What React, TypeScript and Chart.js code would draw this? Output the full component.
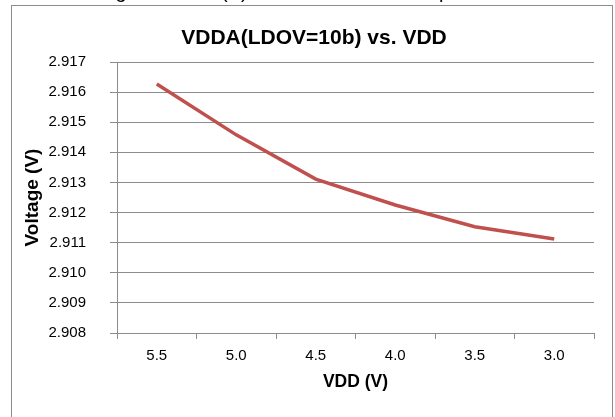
import React, { useEffect, useRef } from "react";
import { Chart, registerables } from "chart.js";

Chart.register(...registerables);

const categories = ["5.5", "5.0", "4.5", "4.0", "3.5", "3.0"];
const vddaValues = [2.91627, 2.91458, 2.91311, 2.91225, 2.91153, 2.91112];
const yMin = 2.908;
const yMax = 2.917;
const yStep = 0.001;
const chartTitle = "VDDA(LDOV=10b) vs. VDD";
const xTitle = "VDD (V)";
const yTitle = "Voltage (V)";
const captionAbove = "Voltage of VDDA(V) vs. VDD at room temperature";

const FONT = "'Liberation Sans', Arial, sans-serif";
const GRID = "#8c8c8c";

const decorPlugin = {
  id: "decor",
  beforeDraw(chart: any) {
    const ctx = chart.ctx;
    ctx.save();
    ctx.fillStyle = "#ffffff";
    ctx.fillRect(0, 0, chart.width, chart.height);
    ctx.strokeStyle = GRID;
    ctx.lineWidth = 1;
    ctx.strokeRect(11.5, 5.5, 601, 440);
    ctx.fillStyle = "#000000";
    ctx.font = `20px ${FONT}`;
    ctx.textBaseline = "alphabetic";
    ctx.textAlign = "left";
    ctx.fillText(captionAbove, 71, -2.5);
    ctx.font = `bold 21px ${FONT}`;
    ctx.textAlign = "center";
    ctx.textBaseline = "middle";
    ctx.fillText(chartTitle, 314, 38);
    ctx.restore();
  },
};

export default function App() {
  const ref = useRef<HTMLCanvasElement | null>(null);
  useEffect(() => {
    if (!ref.current) return;
    const chart = new Chart(ref.current, {
      type: "line",
      data: {
        labels: categories,
        datasets: [
          {
            data: vddaValues,
            borderColor: "#C0504D",
            backgroundColor: "#C0504D",
            borderWidth: 3.5,
            pointRadius: 0,
            tension: 0,
          },
        ],
      },
      options: {
        responsive: false,
        animation: false,
        events: [],
        layout: { padding: { top: 62, right: 21, left: 0, bottom: 0 } },
        plugins: {
          legend: { display: false },
          tooltip: { enabled: false },
          title: { display: false },
        },
        scales: {
          x: {
            type: "category",
            offset: true,
            grid: {
              offset: true,
              drawOnChartArea: false,
              drawTicks: true,
              tickLength: 6,
              color: GRID,
            },
            border: { color: GRID, width: 1 },
            ticks: {
              color: "#000",
              font: { family: FONT, size: 15 },
              padding: 8,
              maxRotation: 0,
            },
            title: {
              display: true,
              text: xTitle,
              color: "#000",
              font: { family: FONT, size: 17.5, weight: "bold" },
              padding: { top: 0, bottom: 24 },
            },
            afterFit(scale: any) {
              scale.height = 417 - 333;
            },
          },
          y: {
            min: yMin,
            max: yMax,
            grid: { color: GRID, tickLength: 7, drawTicks: true },
            border: { color: GRID, width: 1 },
            ticks: {
              stepSize: yStep,
              color: "#000",
              font: { family: FONT, size: 15 },
              padding: 24,
              callback: (v: any) => Number(v).toFixed(3),
            },
            title: {
              display: true,
              text: yTitle,
              color: "#000",
              font: { family: FONT, size: 19, weight: "bold" },
              padding: { top: 21, bottom: 0 },
            },
            afterFit(scale: any) {
              scale.width = 117;
            },
          },
        },
      },
      plugins: [decorPlugin],
    });
    return () => chart.destroy();
  }, []);
  return (
    <div style={{ position: "fixed", left: 0, top: 0, width: 615, height: 417 }}>
      <canvas ref={ref} width={615} height={417} style={{ display: "block", width: 615, height: 417 }} />
    </div>
  );
}
